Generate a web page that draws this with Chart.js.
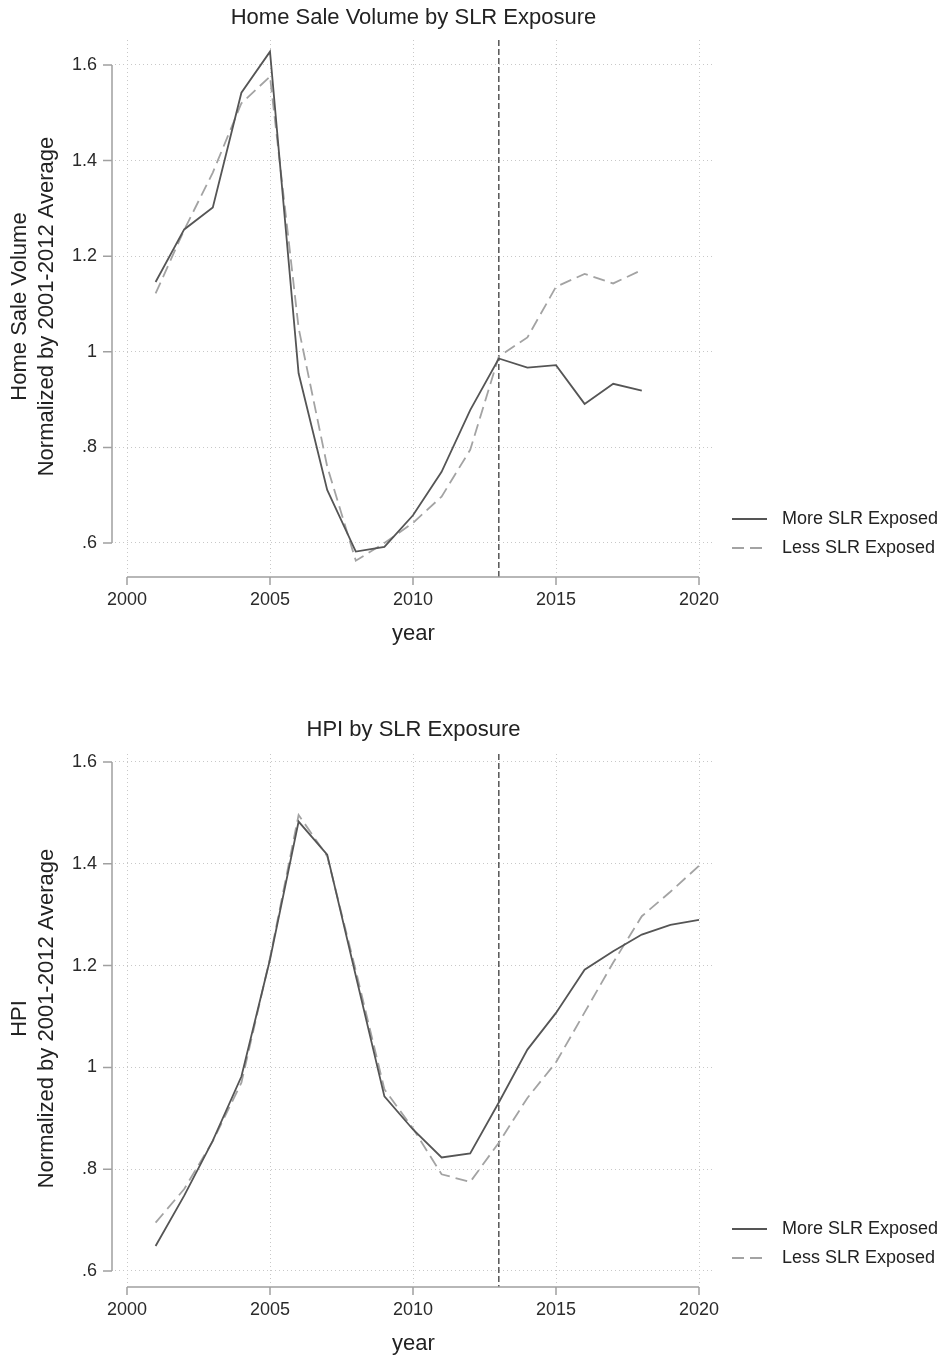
<!DOCTYPE html>
<html>
<head>
<meta charset="utf-8">
<script src="https://cdn.jsdelivr.net/npm/chart.js@4"></script>
<style>
  body { margin: 0; background: #fff; }
  canvas { display: block; }
</style>
</head>
<body>
<canvas id="volumeChart" width="946" height="679"></canvas>
<canvas id="hpiChart" width="946" height="679"></canvas>
<script>
// Data
const volumeYears = [2001, 2002, 2003, 2004, 2005, 2006, 2007, 2008, 2009, 2010, 2011, 2012, 2013, 2014, 2015, 2016, 2017, 2018];
const volumeMore = [1.146, 1.256, 1.302, 1.542, 1.628, 0.955, 0.711, 0.582, 0.592, 0.658, 0.749, 0.878, 0.986, 0.967, 0.972, 0.891, 0.933, 0.919];
const volumeLess = [1.122, 1.255, 1.375, 1.520, 1.576, 1.050, 0.760, 0.563, 0.600, 0.642, 0.697, 0.795, 0.990, 1.030, 1.136, 1.163, 1.143, 1.171];

const hpiYears = [2001, 2002, 2003, 2004, 2005, 2006, 2007, 2008, 2009, 2010, 2011, 2012, 2013, 2014, 2015, 2016, 2017, 2018, 2019, 2020];
const hpiMore = [0.649, 0.748, 0.856, 0.982, 1.212, 1.483, 1.418, 1.180, 0.943, 0.878, 0.823, 0.831, 0.931, 1.035, 1.107, 1.192, 1.228, 1.261, 1.280, 1.290];
const hpiLess = [0.695, 0.761, 0.855, 0.970, 1.215, 1.496, 1.415, 1.190, 0.957, 0.880, 0.790, 0.775, 0.852, 0.940, 1.010, 1.108, 1.206, 1.297, 1.345, 1.396];

const xTicks = [2000, 2005, 2010, 2015, 2020];
const yTicks = [0.6, 0.8, 1.0, 1.2, 1.4, 1.6];
const seriesLabels = ['More SLR Exposed', 'Less SLR Exposed'];
const treatYear = 2013;

Chart.defaults.font.family = "'Liberation Sans', Arial, sans-serif";
Chart.defaults.color = '#333';

function fmtY(v) {
    return String(Math.round(v * 10) / 10).replace(/^0/, '');
}

// Stata-style axes, reference line and legend
const stataBits = {
    id: 'stataBits',
    beforeDatasetsDraw(chart) {
        const {ctx, chartArea, scales: {x}} = chart;
        const px = x.getPixelForValue(treatYear);
        ctx.save();
        ctx.strokeStyle = '#555';
        ctx.lineWidth = 1.5;
        ctx.setLineDash([6, 3]);
        ctx.beginPath();
        ctx.moveTo(px, chartArea.top);
        ctx.lineTo(px, chartArea.bottom + 4);
        ctx.stroke();
        ctx.restore();
    },
    afterDraw(chart) {
        const {ctx, chartArea, scales: {x, y}} = chart;
        ctx.save();
        ctx.strokeStyle = '#a0a0a0';
        ctx.lineWidth = 1.5;
        // y axis
        const ax = chartArea.left - 3;
        ctx.beginPath();
        ctx.moveTo(ax, y.getPixelForValue(yTicks[yTicks.length - 1]));
        ctx.lineTo(ax, y.getPixelForValue(yTicks[0]));
        yTicks.forEach(v => {
            const p = y.getPixelForValue(v);
            ctx.moveTo(ax, p);
            ctx.lineTo(ax - 9, p);
        });
        // x axis
        const ay = chartArea.bottom + 4;
        ctx.moveTo(x.getPixelForValue(xTicks[0]), ay);
        ctx.lineTo(x.getPixelForValue(xTicks[xTicks.length - 1]), ay);
        xTicks.forEach(v => {
            const p = x.getPixelForValue(v);
            ctx.moveTo(p, ay);
            ctx.lineTo(p, ay + 8);
        });
        ctx.stroke();

        // legend
        ctx.font = "18px 'Liberation Sans', Arial, sans-serif";
        ctx.textBaseline = 'middle';
        ctx.fillStyle = '#222';
        chart.data.datasets.forEach((ds, i) => {
            const ry = chartArea.bottom - 54 + i * 29;
            ctx.strokeStyle = ds.borderColor;
            ctx.lineWidth = ds.borderWidth;
            ctx.setLineDash(ds.borderDash || []);
            ctx.beginPath();
            ctx.moveTo(732, ry);
            ctx.lineTo(767, ry);
            ctx.stroke();
            ctx.fillText(ds.label, 782, ry);
        });
        ctx.restore();
    }
};

function makeChart(id, opts) {
    const ctx = document.getElementById(id).getContext('2d');
    return new Chart(ctx, {
        type: 'line',
        data: {
            datasets: [{
                label: seriesLabels[0],
                data: opts.years.map((yr, i) => ({x: yr, y: opts.more[i]})),
                borderColor: '#555',
                borderWidth: 1.8,
                pointRadius: 0,
                tension: 0
            }, {
                label: seriesLabels[1],
                data: opts.years.map((yr, i) => ({x: yr, y: opts.less[i]})),
                borderColor: '#a3a3a3',
                borderWidth: 1.8,
                borderDash: [12, 6],
                pointRadius: 0,
                tension: 0
            }]
        },
        options: {
            responsive: false,
            animation: false,
            devicePixelRatio: 1,
            layout: { padding: { left: 0, right: 234, top: 0, bottom: 0 } },
            plugins: {
                legend: { display: false },
                tooltip: { enabled: false },
                title: {
                    display: true,
                    text: opts.title,
                    fullSize: false,
                    color: '#222',
                    font: { size: 22, weight: 'normal' },
                    padding: opts.titlePad
                }
            },
            scales: {
                x: {
                    type: 'linear',
                    min: opts.xMin,
                    max: opts.xMax,
                    afterBuildTicks: s => { s.ticks = xTicks.map(v => ({value: v})); },
                    afterFit: s => { s.height = opts.xHeight; },
                    border: { display: false, dash: [1, 3] },
                    grid: { color: '#c8c8c8', drawTicks: false },
                    ticks: {
                        padding: 16,
                        maxRotation: 0,
                        autoSkip: false,
                        color: '#2a2a2a',
                        font: { size: 18 },
                        callback: v => String(v)
                    },
                    title: {
                        display: true,
                        text: 'year',
                        color: '#222',
                        font: { size: 22 },
                        padding: { top: 0, bottom: opts.yearPad }
                    }
                },
                y: {
                    type: 'linear',
                    min: opts.yMin,
                    max: opts.yMax,
                    afterBuildTicks: s => { s.ticks = yTicks.map(v => ({value: v})); },
                    afterFit: s => { s.width = 115; },
                    border: { display: false, dash: [1, 3] },
                    grid: { color: '#c8c8c8', drawTicks: false },
                    ticks: {
                        padding: 18,
                        autoSkip: false,
                        color: '#2a2a2a',
                        font: { size: 18 },
                        callback: v => fmtY(v)
                    },
                    title: {
                        display: true,
                        text: opts.yTitle,
                        color: '#222',
                        font: { size: 22 },
                        padding: { top: 7, bottom: 0 }
                    }
                }
            }
        },
        plugins: [stataBits]
    });
}

makeChart('volumeChart', {
    title: 'Home Sale Volume by SLR Exposure',
    yTitle: ['Home Sale Volume', 'Normalized by 2001-2012 Average'],
    years: volumeYears, more: volumeMore, less: volumeLess,
    xMin: 1999.5804, xMax: 2020.4545,
    yMin: 0.5372, yMax: 1.6523,
    titlePad: { top: 5, bottom: 8.6 },
    xHeight: 106,
    yearPad: 32
});

makeChart('hpiChart', {
    title: 'HPI by SLR Exposure',
    yTitle: ['HPI', 'Normalized by 2001-2012 Average'],
    years: hpiYears, more: hpiMore, less: hpiLess,
    xMin: 1999.5804, xMax: 2020.4545,
    yMin: 0.5764, yMax: 1.6157,
    titlePad: { top: 38, bottom: 10.6 },
    xHeight: 75,
    yearPad: 1
});
</script>
</body>
</html>
